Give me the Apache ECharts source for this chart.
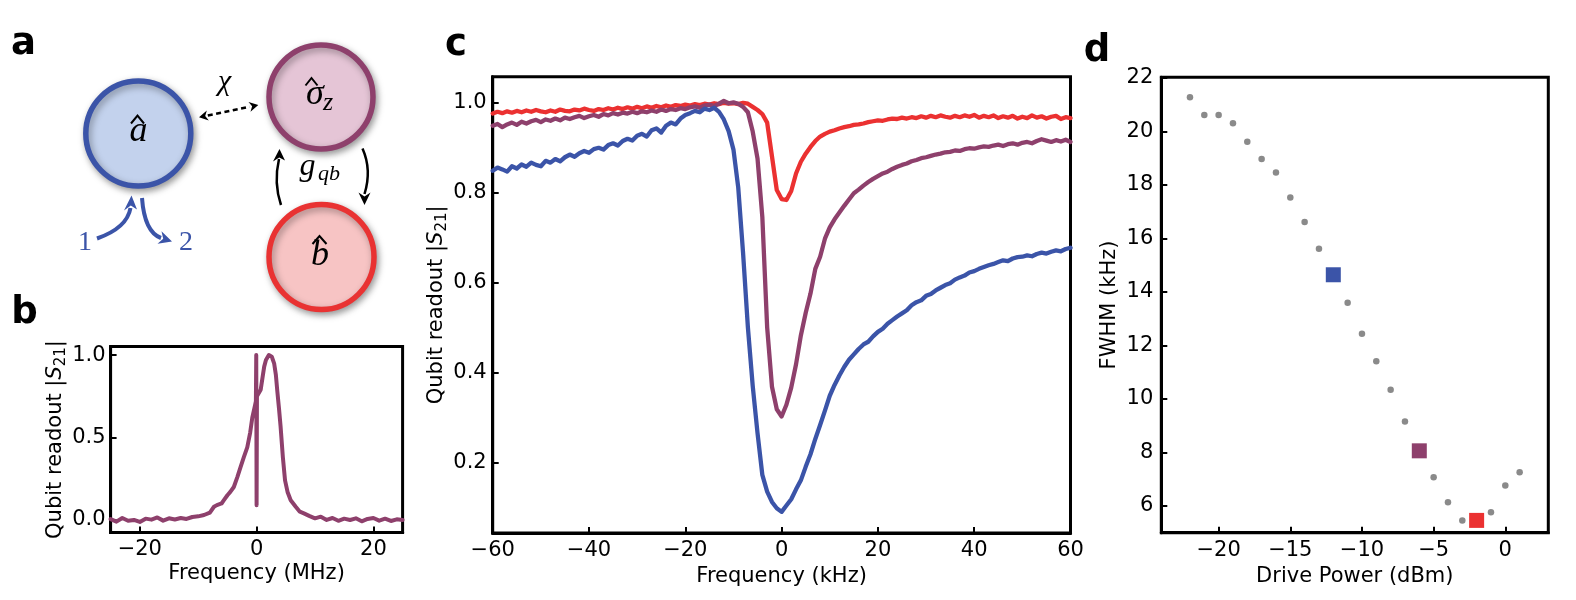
<!DOCTYPE html>
<html><head><meta charset="utf-8">
<script src="https://cdn.jsdelivr.net/npm/echarts@6/dist/echarts.min.js"></script>
<style>html,body{margin:0;padding:0;background:#fff}#c{width:1576px;height:600px}</style>
</head><body><div id="c"></div><script>
// ---------- DATA ----------
// panel b : wide qubit scan
const freqB = [-25,-24,-23,-22,-21,-20,-19,-18,-17,-16,-15,-14,-13,-12,-11,-10,-9,-8,
  -7.3,-6.8,-6,-5.6,-5,-4.5,-3.9,-3.3,-2.75,-2.2,-1.6,-1.1,-0.74,-0.3,-0.12,-0.06,0,0.06,
  0.3,0.7,1.0,1.3,1.6,2.1,2.6,3.0,3.3,3.55,3.85,4.1,4.5,4.87,5.3,5.84,6.7,7.4,8.1,9,
  10,11,12,13,14,15,16,17,18,19,20,21,22,23,24,25];
const readB = [0.005,-0.01,0.012,-0.005,0.0,-0.012,0.008,0.002,0.015,-0.004,0.01,0.003,0.012,0.006,0.018,0.022,0.03,0.045,
  0.08,0.09,0.1,0.12,0.15,0.17,0.2,0.26,0.32,0.38,0.44,0.53,0.62,0.69,0.72,1.0,0.09,0.75,
  0.76,0.79,0.86,0.93,0.97,1.0,0.99,0.95,0.88,0.78,0.67,0.57,0.38,0.24,0.17,0.12,0.08,0.05,0.04,0.025,
  0.01,0.02,0.0,0.012,-0.005,0.008,0.0,0.01,-0.008,0.006,0.012,-0.004,0.008,-0.006,0.004,0.0];

// panel c : narrow scans at three drive powers
const freqC = [-60,-59,-58,-57,-56,-55,-54,-53,-52,-51,-50,-49,-48,-47,-46,-45,-44,-43,-42,-41,
  -40,-39,-38,-37,-36,-35,-34,-33,-32,-31,-30,-29,-28,-27,-26,-25,-24,-23,-22,-21,
  -20,-19,-18,-17,-16,-15,-14,-13,-12,-11,-10,-9,-8,-7,-6,-5,-4,-3,-2,-1,
  0,1,2,3,4,5,6,7,8,9,10,11,12,13,14,15,16,17,18,19,20,21,22,23,24,25,26,27,28,29,
  30,31,32,33,34,35,36,37,38,39,40,41,42,43,44,45,46,47,48,49,50,51,52,53,54,55,56,57,58,59,60];
const readRed = [0.975,0.979,0.976,0.980,0.977,0.981,0.978,0.982,0.979,0.983,
  0.980,0.978,0.982,0.979,0.984,0.981,0.980,0.984,0.982,0.986,
  0.983,0.981,0.985,0.983,0.987,0.984,0.988,0.985,0.989,0.986,
  0.990,0.987,0.991,0.988,0.992,0.989,0.993,0.990,0.994,0.992,
  0.995,0.993,0.996,0.994,0.997,0.995,0.998,0.996,0.999,0.997,
  0.998,0.996,0.999,0.997,0.990,0.983,0.974,0.955,0.880,0.805,
  0.785,0.783,0.803,0.842,0.868,0.886,0.901,0.914,0.924,0.930,
  0.935,0.938,0.942,0.945,0.947,0.950,0.951,0.953,0.956,0.958,
  0.960,0.959,0.962,0.964,0.963,0.966,0.964,0.967,0.965,0.969,
  0.966,0.970,0.967,0.971,0.968,0.966,0.970,0.967,0.971,0.968,
  0.972,0.966,0.970,0.967,0.971,0.965,0.969,0.966,0.970,0.964,
  0.968,0.965,0.971,0.966,0.969,0.964,0.968,0.970,0.963,0.967,0.965];
const readPurple = [0.948,0.952,0.945,0.951,0.955,0.950,0.957,0.953,0.958,0.961,
  0.956,0.962,0.959,0.964,0.960,0.966,0.963,0.967,0.970,0.965,
  0.969,0.972,0.968,0.974,0.971,0.976,0.973,0.977,0.975,0.979,
  0.976,0.980,0.978,0.982,0.979,0.984,0.981,0.985,0.983,0.987,
  0.985,0.989,0.991,0.988,0.993,0.995,0.992,0.997,1.003,0.998,
  1.000,0.997,0.990,0.978,0.935,0.875,0.745,0.500,0.368,0.318,
  0.302,0.328,0.366,0.418,0.482,0.532,0.575,0.630,0.657,0.697,
  0.722,0.740,0.755,0.770,0.784,0.798,0.806,0.815,0.823,0.830,
  0.836,0.842,0.846,0.852,0.857,0.861,0.864,0.869,0.872,0.876,
  0.878,0.881,0.884,0.886,0.889,0.890,0.893,0.892,0.896,0.898,
  0.897,0.900,0.902,0.901,0.904,0.906,0.903,0.907,0.909,0.906,
  0.910,0.912,0.909,0.914,0.918,0.915,0.912,0.916,0.913,0.917,0.912];
const readBlue = [0.848,0.855,0.851,0.846,0.858,0.853,0.862,0.857,0.866,0.861,
  0.858,0.870,0.866,0.874,0.869,0.878,0.884,0.879,0.887,0.892,
  0.888,0.896,0.899,0.895,0.905,0.909,0.904,0.914,0.919,0.915,
  0.926,0.930,0.924,0.938,0.942,0.933,0.948,0.955,0.951,0.964,
  0.972,0.976,0.981,0.978,0.986,0.983,0.988,0.979,0.962,0.936,
  0.895,0.810,0.665,0.500,0.370,0.265,0.172,0.135,0.112,0.098,
  0.090,0.104,0.118,0.140,0.160,0.190,0.218,0.252,0.283,0.315,
  0.348,0.372,0.393,0.412,0.428,0.440,0.452,0.462,0.468,0.480,
  0.490,0.497,0.508,0.516,0.524,0.531,0.538,0.549,0.556,0.560,
  0.570,0.574,0.582,0.588,0.594,0.598,0.606,0.611,0.615,0.622,
  0.625,0.630,0.634,0.638,0.641,0.645,0.649,0.647,0.653,0.656,
  0.657,0.660,0.658,0.663,0.666,0.664,0.668,0.671,0.669,0.674,0.677];

// panel d : FWHM vs drive power
const powerD = [-22,-21,-20,-19,-18,-17,-16,-15,-14,-13,-11,-10,-9,-8,-7,-5,-4,-3,-1,0,1];
const fwhmD  = [21.27,20.61,20.61,20.30,19.61,18.97,18.46,17.53,16.61,15.61,13.59,12.44,11.41,10.34,9.16,7.07,6.14,5.46,5.76,6.76,7.26];
const powerSq = [-12,-6,-2];
const fwhmSq  = [14.64,8.06,5.46];

// tick values
const ticksBx = [-20,0,20], ticksBy = [0,0.5,1.0];
const ticksCy = [0.2,0.4,0.6,0.8,1.0];
const ticksDx = [-20,-15,-10,-5,0], ticksDy = [6,8,10,12,14,16,18,20,22];

// ---------- STYLE ----------
const RED='#eb3131', PURPLE='#8e406c', BLUE='#3b54a8', GRAY='#8a8a8a';
const sqColors=[BLUE,PURPLE,RED];
const FF='DejaVu Sans', FS=21;

const fmt = d => v => (v<0?'\u2212':'') + Math.abs(v).toFixed(d);
function xAx(gi,min,max,name,gap,ticks,dec,interval){
  const a={gridIndex:gi,type:'value',min,max,
    axisLine:{show:true,onZero:false,lineStyle:{color:'#000',width:3}},
    axisTick:{show:true,inside:true,length:6,lineStyle:{color:'#000',width:2}},
    axisLabel:{margin:7,fontSize:FS,fontFamily:FF,color:'#000',formatter:fmt(dec)},
    splitLine:{show:false},
    name,nameLocation:'middle',nameGap:gap,
    nameTextStyle:{fontSize:FS,fontFamily:FF,color:'#000'}};
  if(ticks){a.axisTick.customValues=ticks;a.axisLabel.customValues=ticks;}
  if(interval){a.interval=interval;}
  return a;
}
function yAx(gi,min,max,name,gap,ticks,dec,margin,rich){
  const a={gridIndex:gi,type:'value',min,max,
    axisLine:{show:true,onZero:false,lineStyle:{color:'#000',width:3}},
    axisTick:{show:true,inside:true,length:6,lineStyle:{color:'#000',width:2},customValues:ticks},
    axisLabel:{margin,fontSize:FS,fontFamily:FF,color:'#000',formatter:fmt(dec),customValues:ticks},
    splitLine:{show:false},
    name,nameLocation:'middle',nameGap:gap,nameRotate:90,
    nameTextStyle:{fontSize:FS,fontFamily:FF,color:'#000',lineHeight:26}};
  if(rich){a.nameTextStyle.rich={
    s:{fontStyle:'italic',fontSize:FS,fontFamily:FF,color:'#000',lineHeight:26},
    sub:{fontSize:15,fontFamily:FF,color:'#000',lineHeight:15,verticalAlign:'bottom'}};}
  return a;
}
const S21='Qubit readout |{s|S}{sub|21}|';

const gridBase={show:true,borderColor:'#000',borderWidth:3,containLabel:false,outerBoundsMode:'none'};

// ---------- DIAGRAM (panel a) ----------
const shadow={shadowBlur:7,shadowOffsetX:2,shadowOffsetY:3,shadowColor:'rgba(0,0,0,0.35)'};
function txt(text,x,y,font,fill,align){return {type:'text',z:110,style:{text,x,y,font,fill:fill||'#000',
  textAlign:align||'center',textVerticalAlign:'middle',verticalAlign:'middle'}};}
function head(pts,color){return {type:'polygon',z:105,shape:{points:pts},style:{fill:color}};}
const graphics=[
  {type:'circle',z:100,shape:{cx:138.3,cy:133.5,r:52.5},style:Object.assign({fill:'#c3d2ed',stroke:BLUE,lineWidth:5.5},shadow)},
  {type:'circle',z:100,shape:{cx:321,cy:97,r:52},style:Object.assign({fill:'#e5c5d6',stroke:PURPLE,lineWidth:5.5},shadow)},
  {type:'circle',z:100,shape:{cx:321.5,cy:257,r:52.5},style:Object.assign({fill:'#f7c4c4',stroke:'#e93232',lineWidth:5.5},shadow)},
  txt('a',138.5,132,'italic 36px "Liberation Serif"'),
  {type:'polyline',z:110,shape:{points:[[131,123.5],[137.5,115.5],[144,123.5]]},style:{stroke:'#000',lineWidth:2,fill:null}},
  txt('\u03c3',315,95,'italic 36px "Liberation Serif"'),
  txt('z',328,103.5,'italic 26px "Liberation Serif"'),
  {type:'polyline',z:110,shape:{points:[[305.5,85.5],[311.5,78],[317.5,85.5]]},style:{stroke:'#000',lineWidth:2,fill:null}},
  txt('b',320,256,'italic 36px "Liberation Serif"'),
  {type:'polyline',z:110,shape:{points:[[312.5,244],[319.5,236],[326.5,244]]},style:{stroke:'#000',lineWidth:2,fill:null}},
  txt('\u03c7',224.5,82,'italic 30px "Liberation Serif"'),
  {type:'line',z:105,shape:{x1:207.8,y1:115.5,x2:249.5,y2:106.8},style:{stroke:'#000',lineWidth:2.5,lineDash:[5,3.5]}},
  head([[199,117.3],[208.8,120.4],[205.2,116.0],[206.8,110.6]],'#000'),
  head([[258.3,105],[250.5,111.7],[252.1,106.3],[248.5,101.9]],'#000'),
  txt('g',307.5,166.5,'italic 32px "Liberation Serif"'),
  txt('qb',329,174.5,'italic 22px "Liberation Serif"'),
  {type:'bezierCurve',z:105,shape:{x1:281,y1:205,x2:279,y2:159,cpx1:273.5,cpy1:183},style:{stroke:'#000',lineWidth:2.5,fill:null}},
  head([[279.5,149],[273,161.5],[279.2,157.4],[285,160.5]],'#000'),
  {type:'bezierCurve',z:105,shape:{x1:362.5,y1:148.5,x2:364.5,y2:194,cpx1:372,cpy1:170},style:{stroke:'#000',lineWidth:2.5,fill:null}},
  head([[364.5,205],[358.5,192.5],[364.5,196.6],[370.5,192.5]],'#000'),
  {type:'bezierCurve',z:105,shape:{x1:97,y1:238.5,x2:130.5,y2:208,cpx1:127,cpy1:228},style:{stroke:BLUE,lineWidth:4,fill:null}},
  head([[131.5,195.5],[124,210.5],[130.8,205.6],[137,209.5]],BLUE),
  {type:'bezierCurve',z:105,shape:{x1:142,y1:198,x2:161,y2:238,cpx1:144.5,cpy1:232},style:{stroke:BLUE,lineWidth:4,fill:null}},
  head([[172,241.5],[157.5,243.7],[163.2,238.7],[161.5,231.3]],BLUE),
  txt('1',85,242.5,'28px "Liberation Serif"',BLUE),
  txt('2',186,242.5,'28px "Liberation Serif"',BLUE),
  // panel letters
  txt('a',23.5,44,'bold 37px "DejaVu Sans"'),
  txt('b',24.5,313,'bold 37px "DejaVu Sans"'),
  txt('c',456,45,'bold 37px "DejaVu Sans"'),
  txt('d',1097,51,'bold 37px "DejaVu Sans"')
];

// ---------- CHART ----------
const chart=echarts.init(document.getElementById('c'),null,{renderer:'canvas',width:1576,height:600});
chart.setOption({
  animation:false,
  backgroundColor:'#fff',
  grid:[
    Object.assign({left:110.6,top:346.5,width:292,height:186},gridBase),
    Object.assign({left:492.7,top:76.7,width:577.8,height:456.3},gridBase),
    Object.assign({left:1161.3,top:77.3,width:387,height:455.4},gridBase)
  ],
  xAxis:[
    xAx(0,-25,25,'Frequency (MHz)',31,ticksBx,0),
    xAx(1,-60,60,'Frequency (kHz)',31,null,0,20),
    xAx(2,-24,3,'Drive Power (dBm)',30,ticksDx,0)
  ],
  yAxis:[
    yAx(0,-0.076,1.052,S21,38,ticksBy,1,5,true),
    yAx(1,0.043,1.057,S21,42.5,ticksCy,1,6,true),
    yAx(2,5,22.02,'FWHM (kHz)',34,ticksDy,0,8,false)
  ],
  graphic:graphics,
  series:[
    {type:'line',xAxisIndex:0,yAxisIndex:0,showSymbol:false,clip:true,
      data:freqB.map((f,i)=>[f,readB[i]]),
      lineStyle:{color:PURPLE,width:4,cap:'round',join:'round'}},
    {type:'line',xAxisIndex:1,yAxisIndex:1,showSymbol:false,clip:true,
      data:freqC.map((f,i)=>[f,readRed[i]]),
      lineStyle:{color:RED,width:4.3,cap:'round',join:'round'}},
    {type:'line',xAxisIndex:1,yAxisIndex:1,showSymbol:false,clip:true,
      data:freqC.map((f,i)=>[f,readPurple[i]]),
      lineStyle:{color:PURPLE,width:4.3,cap:'round',join:'round'}},
    {type:'line',xAxisIndex:1,yAxisIndex:1,showSymbol:false,clip:true,
      data:freqC.map((f,i)=>[f,readBlue[i]]),
      lineStyle:{color:BLUE,width:4.3,cap:'round',join:'round'}},
    {type:'scatter',xAxisIndex:2,yAxisIndex:2,symbol:'circle',symbolSize:6.5,
      data:powerD.map((p,i)=>[p,fwhmD[i]]),itemStyle:{color:GRAY,opacity:1}},
    {type:'scatter',xAxisIndex:2,yAxisIndex:2,symbol:'rect',symbolSize:15,z:3,
      data:powerSq.map((p,i)=>[p,fwhmSq[i]]),
      itemStyle:{color:p=>sqColors[p.dataIndex],opacity:1}}
  ]
});
</script></body></html>
